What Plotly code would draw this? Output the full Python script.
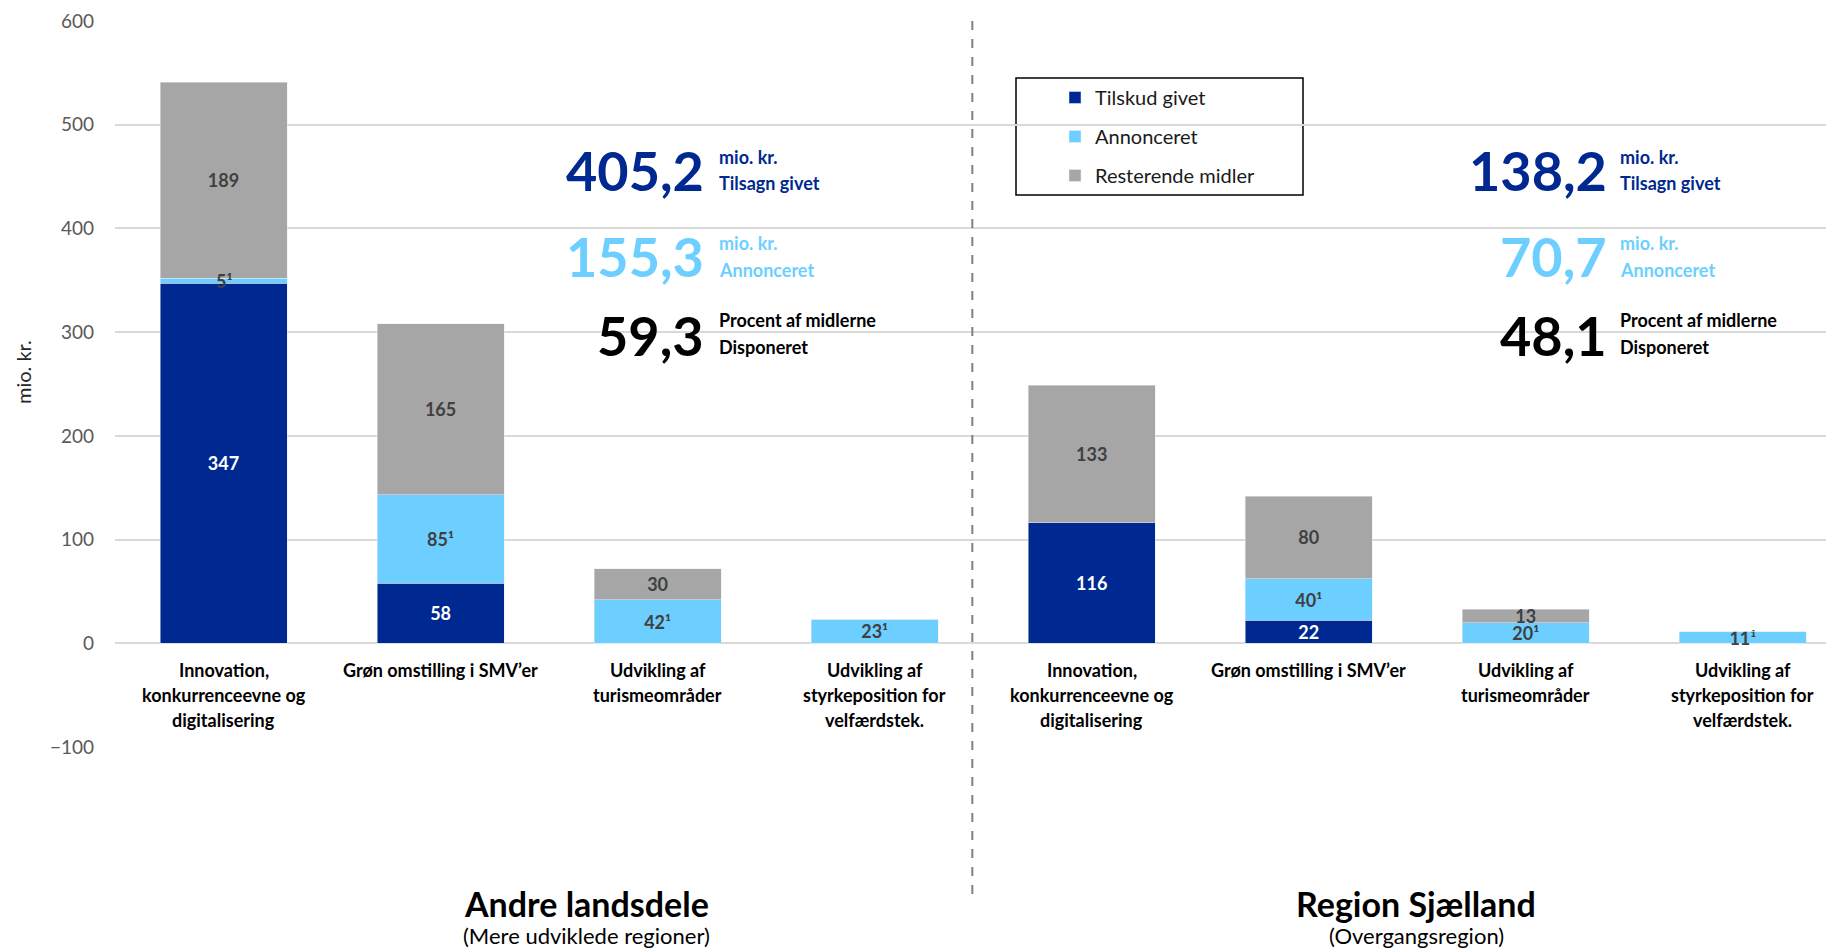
import plotly.graph_objects as go

# ---------------- data ----------------
categories = [
    "Innovation,<br>konkurrenceevne og<br>digitalisering",
    "Grøn omstilling i SMV’er",
    "Udvikling af<br>turismeområder",
    "Udvikling af<br>styrkeposition for<br>velfærdstek.",
    "Innovation,<br>konkurrenceevne og<br>digitalisering",
    "Grøn omstilling i SMV’er",
    "Udvikling af<br>turismeområder",
    "Udvikling af<br>styrkeposition for<br>velfærdstek.",
]
tilskud = [347, 58, 0, 0, 116, 22, 0, 0]
annonceret = [5, 85, 42, 23, 0, 40, 20, 11]
resterende = [189, 165, 30, 0, 133, 80, 13, 0]

series_names = ["Tilskud givet", "Annonceret", "Resterende midler"]
series_colors = ["#002891", "#6DCFFF", "#A6A6A6"]
label_colors = ["#FFFFFF", "#404040", "#404040"]
label_suffix = ["", "¹", ""]

group_titles = ["Andre landsdele", "Region Sjælland"]
group_subtitles = ["(Mere udviklede regioner)", "(Overgangsregion)"]

stat_big = [["405,2", "155,3", "59,3"], ["138,2", "70,7", "48,1"]]
stat_line1 = ["mio. kr.", "mio. kr.", "Procent af midlerne"]
stat_line2 = ["Tilsagn givet", "Annonceret", "Disponeret"]
stat_colors = ["#002891", "#6DCFFF", "#000000"]

y_ticks = [-100, 0, 100, 200, 300, 400, 500, 600]
y_title = "mio. kr."

# ---------------- layout helpers ----------------
OFF = 8                      # page body margin offset
W, H = 1834 - OFF, 948 - OFF
ML = 115 - OFF
MT = 21 - OFF
MB = H - (747 - OFF)
PW = W - ML
PH = H - MT - MB


def px_x(px):
    """image x pixel -> paper x"""
    return (px - OFF - ML) / PW


def px_y(py):
    """image y pixel -> paper y"""
    return (H - MB - (py - OFF)) / PH


FONT = "Lato"
SMALL = 10   # segments thinner than this get their label drawn on top as annotation
xs = list(range(len(categories)))

all_series = [tilskud, annonceret, resterende]
fig = go.Figure()
ann = []
for s, (name, vals, col, lcol, suf) in enumerate(zip(series_names, all_series,
                                                     series_colors, label_colors, label_suffix)):
    texts = []
    for i, v in enumerate(vals):
        if not v:
            texts.append("")
        elif v < SMALL and s < len(all_series) - 1:
            base = sum(all_series[k][i] for k in range(s))
            texts.append("")
            ann.append(dict(x=i, xref="x", y=base + v / 2, yref="y", text=f"{v}{suf}",
                            showarrow=False, xanchor="center", yanchor="middle",
                            font=dict(family=FONT, size=18, color=lcol, weight="bold")))
        else:
            texts.append(f"{v}{suf}")
    fig.add_trace(go.Bar(
        x=xs, y=vals, name=name, marker_color=col, width=0.585,
        text=texts,
        textposition="inside", insidetextanchor="middle", textangle=0,
        textfont=dict(family=FONT, size=18, color=lcol, weight="bold"),
        constraintext="none", cliponaxis=False,
        legendgroup=name, hoverinfo="skip",
    ))

fig.update_layout(
    width=W, height=H, barmode="stack",
    margin=dict(l=ML, r=0, t=MT, b=MB),
    plot_bgcolor="white", paper_bgcolor="white",
    font=dict(family=FONT, color="#000000"),
    uniformtext=dict(minsize=18, mode="show"),
    showlegend=True,
    legend=dict(x=px_x(1055), y=px_y(78), xanchor="left", yanchor="top",
                bgcolor="rgba(0,0,0,0)", font=dict(family=FONT, size=20, color="#1a1a1a"),
                traceorder="grouped", tracegroupgap=10, itemwidth=30),
    xaxis=dict(range=[-0.5, 7.42], showticklabels=False, showgrid=False,
               zeroline=False, showline=False, ticks=""),
    yaxis=dict(range=[-100, 600], tickvals=y_ticks, showgrid=True,
               gridcolor="#D9D9D9", gridwidth=1.5, zeroline=False, showline=False,
               ticks="", ticklabelstandoff=20, ticklabeloverflow="allow",
               tickfont=dict(family=FONT, size=19, color="#595959")),
)

# legend frame
fig.add_shape(type="rect", xref="paper", yref="paper",
              x0=px_x(1016), x1=px_x(1303), y0=px_y(195), y1=px_y(78),
              line=dict(color="#000000", width=1.5), fillcolor="rgba(0,0,0,0)", layer="below")

# divider
fig.add_shape(type="line", xref="x", yref="paper", x0=3.45, x1=3.45,
              y0=1, y1=px_y(895), line=dict(color="#808080", width=2, dash="dash"))

# category labels (one annotation per line)
line_y = [670, 695, 720]
for i, lab in enumerate(categories):
    for j, line in enumerate(lab.split("<br>")):
        ann.append(dict(x=i, xref="x", y=px_y(line_y[j]), yref="paper", text=line,
                        showarrow=False, xanchor="center", yanchor="middle",
                        font=dict(family=FONT, size=18, color="#000000", weight="bold")))

# y title
ann.append(dict(x=px_x(23), xref="paper", y=px_y(372), yref="paper", text=y_title,
                textangle=-90, showarrow=False, xanchor="center", yanchor="middle",
                font=dict(family=FONT, size=20, color="#262626")))

# group titles
for title, sub, cx in zip(group_titles, group_subtitles, [586, 1416]):
    ann.append(dict(x=px_x(cx), xref="paper", y=px_y(903), yref="paper", text=title,
                    showarrow=False, xanchor="center", yanchor="middle",
                    font=dict(family=FONT, size=34, color="#000000", weight="bold")))
    ann.append(dict(x=px_x(cx), xref="paper", y=px_y(935), yref="paper", text=sub,
                    showarrow=False, xanchor="center", yanchor="middle",
                    font=dict(family=FONT, size=22, color="#000000")))

# stat blocks
big_y = [170, 257, 335]
l1_y = [157, 243, 320]
l2_y = [183, 270, 347]
for g, (rx, tx) in enumerate([(706, 717), (1609, 1618)]):
    for k in range(3):
        ann.append(dict(x=px_x(rx), xref="paper", y=px_y(big_y[k]), yref="paper",
                        text=stat_big[g][k], showarrow=False, xanchor="right", yanchor="middle",
                        font=dict(family=FONT, size=54, color=stat_colors[k], weight="bold")))
        ann.append(dict(x=px_x(tx), xref="paper", y=px_y(l1_y[k]), yref="paper",
                        text=stat_line1[k], showarrow=False, xanchor="left", yanchor="middle",
                        font=dict(family=FONT, size=18, color=stat_colors[k], weight="bold")))
        ann.append(dict(x=px_x(tx), xref="paper", y=px_y(l2_y[k]), yref="paper",
                        text=stat_line2[k], showarrow=False, xanchor="left", yanchor="middle",
                        font=dict(family=FONT, size=18, color=stat_colors[k], weight="bold")))

fig.update_layout(annotations=ann)
fig.write_html("out.html")
